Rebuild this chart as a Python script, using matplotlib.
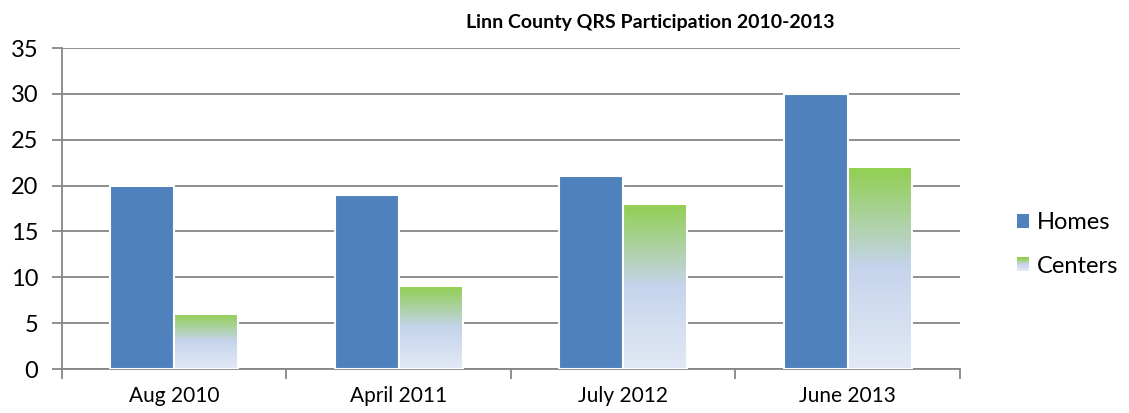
import matplotlib.pyplot as plt
import numpy as np
from matplotlib.colors import LinearSegmentedColormap
from matplotlib.legend_handler import HandlerBase
from matplotlib.patches import Patch, Rectangle

# data
categories = ['Aug 2010', 'April 2011', 'July 2012', 'June 2013']
homes = [20, 19, 21, 30]
centers = [6, 9, 18, 22]
y_ticks = [0, 5, 10, 15, 20, 25, 30, 35]

plt.rcParams['font.family'] = ['Lato', 'DejaVu Sans']

grad = LinearSegmentedColormap.from_list(
    'cgrad', [(0.0, '#E2E9F5'), (0.5, '#C5D4EC'), (1.0, '#92CF50')])


class GradientHandler(HandlerBase):
    """Legend key drawn as stacked stripes of the Centers gradient."""

    def create_artists(self, legend, orig_handle, xdescent, ydescent,
                       width, height, fontsize, trans):
        n = 12
        out = []
        for i in range(n):
            out.append(Rectangle((-xdescent, -ydescent + i * height / n),
                                 width, height / n + 0.3,
                                 facecolor=grad(i / (n - 1)),
                                 edgecolor='none', transform=trans))
        return out


fig = plt.figure(figsize=(11.29, 4.13), dpi=100)
ax = fig.add_axes([0.0549, 0.1065, 0.7954, 0.777])

x = np.arange(len(categories))
width = 0.285

ax.bar(x - width / 2, homes, width, color='#4F81BD', edgecolor='white',
       linewidth=1.5, zorder=3)
cbars = ax.bar(x + width / 2, centers, width, color='none', edgecolor='white',
               linewidth=1.5, zorder=4)

# vertical gradient for the Centers bars: green top -> pale blue bottom
g = np.linspace(0, 1, 256).reshape(-1, 1)
for b in cbars:
    x0, y0 = b.get_x(), b.get_y()
    im = ax.imshow(g, cmap=grad, origin='lower', aspect='auto',
                   extent=[x0, x0 + b.get_width(), y0, y0 + b.get_height()],
                   zorder=3.5)
    im.set_clip_path(b)

ax.set_xlim(-0.5, len(categories) - 0.5)
ax.set_ylim(0, 35)
ax.set_yticks(y_ticks)
ax.tick_params(axis='y', labelsize=17, length=7, color='#868686', width=1.3,
               pad=10)

ax.set_xticks(x)
ax.set_xticklabels(categories, fontsize=15)
ax.tick_params(axis='x', length=0, pad=12)
ax.set_xticks(np.arange(len(categories) + 1) - 0.5, minor=True)
ax.tick_params(axis='x', which='minor', length=7, color='#868686', width=1.3)

ax.grid(axis='y', color='#868686', linewidth=1.3, zorder=0)
ax.set_axisbelow(True)
for side in ['top', 'right']:
    ax.spines[side].set_visible(False)
for side in ['left', 'bottom']:
    ax.spines[side].set_color('#868686')
    ax.spines[side].set_linewidth(1.3)

fig.text(0.576, 0.945, 'Linn County QRS Participation 2010-2013',
         fontsize=14, fontweight='bold', ha='center', va='center')

homes_key = Patch(facecolor='#4F81BD', label='Homes')
centers_key = Patch(facecolor='#B5CF9A', label='Centers')
fig.legend(handles=[homes_key, centers_key], loc='center left',
           bbox_to_anchor=(0.9008, 0.408), frameon=False, fontsize=17,
           handlelength=0.5, handleheight=0.5, handletextpad=0.35,
           labelspacing=0.95, borderpad=0, borderaxespad=0,
           handler_map={centers_key: GradientHandler()})

fig.savefig('out.png', dpi=100)
